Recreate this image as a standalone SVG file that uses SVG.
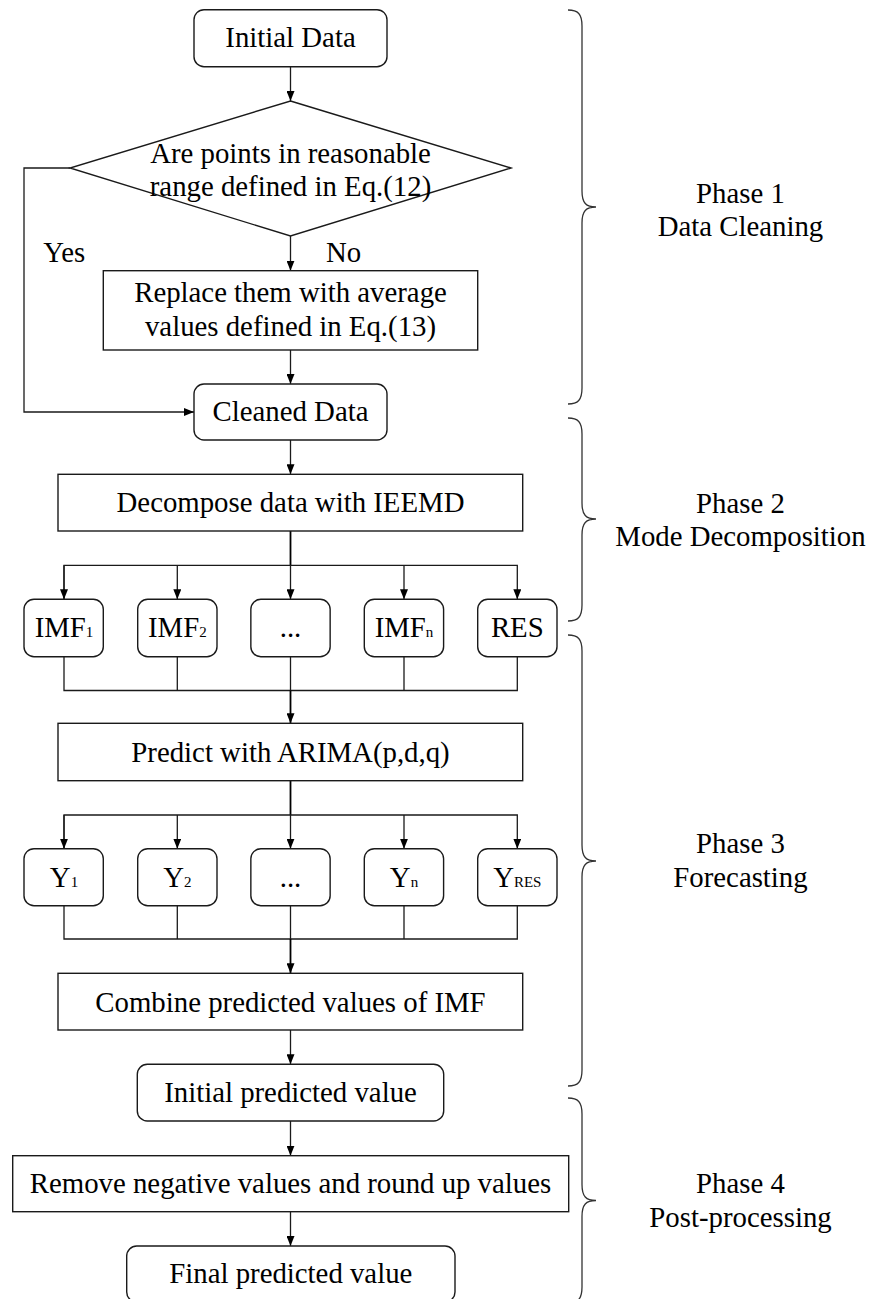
<svg xmlns="http://www.w3.org/2000/svg" width="870" height="1299" viewBox="0 0 870 1299">
<defs>
<marker id="arr" markerUnits="userSpaceOnUse" markerWidth="10" markerHeight="8" refX="10" refY="4" orient="auto">
<path d="M0,0 L10,4 L0,8 z" fill="#000"/>
</marker>
<style>
.box{fill:#fff;stroke:#1a1a1a;stroke-width:1.4}
.ln{fill:none;stroke:#1a1a1a;stroke-width:1.3}
.tr{fill:none;stroke:#000;stroke-width:1.8}
.br{fill:none;stroke:#333;stroke-width:1.3}
text{font-family:"Liberation Serif","Times New Roman",serif;font-size:28.8px;fill:#000}
.c{text-anchor:middle}
.sub{font-size:15px}
</style>
</defs>
<rect width="870" height="1299" fill="#fff"/>

<g id="connectors">
<line class="ln" x1="290.5" y1="66.7" x2="290.5" y2="101" marker-end="url(#arr)"/>
<line class="ln" x1="290.5" y1="236" x2="290.5" y2="270.7" marker-end="url(#arr)"/>
<line class="ln" x1="290.5" y1="350" x2="290.5" y2="384" marker-end="url(#arr)"/>
<polyline class="ln" points="70,168 24,168 24,412 194,412" marker-end="url(#arr)"/>
<line class="ln" x1="290.5" y1="440" x2="290.5" y2="474.3" marker-end="url(#arr)"/>
<line class="tr" x1="290.5" y1="531" x2="290.5" y2="565.3"/>
<polyline class="ln" points="64,599.3 64,565.3 517.3,565.3 517.3,599.3" marker-end="url(#arr)"/>
<line class="ln" x1="64" y1="565.3" x2="64" y2="599.3" marker-end="url(#arr)"/>
<line class="ln" x1="177.3" y1="565.3" x2="177.3" y2="599.3" marker-end="url(#arr)"/>
<line class="ln" x1="290.5" y1="565.3" x2="290.5" y2="599.3" marker-end="url(#arr)"/>
<line class="ln" x1="404" y1="565.3" x2="404" y2="599.3" marker-end="url(#arr)"/>
<polyline class="ln" points="64,656.7 64,690.5 517.3,690.5 517.3,656.7"/>
<line class="ln" x1="177.3" y1="656.7" x2="177.3" y2="690.5"/>
<line class="ln" x1="290.5" y1="656.7" x2="290.5" y2="690.5"/>
<line class="ln" x1="404" y1="656.7" x2="404" y2="690.5"/>
<line class="tr" x1="290.5" y1="690.5" x2="290.5" y2="723.3" marker-end="url(#arr)"/>
<line class="tr" x1="290.5" y1="780.7" x2="290.5" y2="815"/>
<polyline class="ln" points="64,848.7 64,815 517.3,815 517.3,848.7" marker-end="url(#arr)"/>
<line class="ln" x1="64" y1="815" x2="64" y2="848.7" marker-end="url(#arr)"/>
<line class="ln" x1="177.3" y1="815" x2="177.3" y2="848.7" marker-end="url(#arr)"/>
<line class="ln" x1="290.5" y1="815" x2="290.5" y2="848.7" marker-end="url(#arr)"/>
<line class="ln" x1="404" y1="815" x2="404" y2="848.7" marker-end="url(#arr)"/>
<polyline class="ln" points="64,905.7 64,939 517.3,939 517.3,905.7"/>
<line class="ln" x1="177.3" y1="905.7" x2="177.3" y2="939"/>
<line class="ln" x1="290.5" y1="905.7" x2="290.5" y2="939"/>
<line class="ln" x1="404" y1="905.7" x2="404" y2="939"/>
<line class="tr" x1="290.5" y1="939" x2="290.5" y2="973.3" marker-end="url(#arr)"/>
<line class="ln" x1="290.5" y1="1030" x2="290.5" y2="1064.3" marker-end="url(#arr)"/>
<line class="ln" x1="290.5" y1="1121" x2="290.5" y2="1155.7" marker-end="url(#arr)"/>
<line class="ln" x1="290.5" y1="1211.7" x2="290.5" y2="1246" marker-end="url(#arr)"/>
<text x="43.3" y="261.7">Yes</text>
<text x="326" y="261.7">No</text>
</g>

<g id="initial-data"><rect class="box" x="194" y="9.7" width="193" height="57" rx="10"/><text class="c" x="290.5" y="46.7">Initial Data</text></g>
<g id="decision"><polygon class="box" points="290.5,101 511,168 290.5,236 70,168"/><text class="c" x="290.5" y="162.7">Are points in reasonable</text><text class="c" x="290.5" y="196.3">range defined in Eq.(12)</text></g>
<g id="replace"><rect class="box" x="103.3" y="270.7" width="374.4" height="79.3"/><text class="c" x="290.5" y="301.7">Replace them with average</text><text class="c" x="290.5" y="335.5">values defined in Eq.(13)</text></g>
<g id="cleaned-data"><rect class="box" x="194" y="384" width="193" height="56" rx="10"/><text class="c" x="290.5" y="421">Cleaned Data</text></g>
<g id="decompose"><rect class="box" x="58" y="474.3" width="464.7" height="56.7"/><text class="c" x="290.5" y="511.7">Decompose data with IEEMD</text></g>

<g id="imf1"><rect class="box" x="24" y="599.3" width="79.3" height="57.4" rx="10"/><text class="c" x="64" y="637.3">IMF<tspan class="sub">1</tspan></text></g>
<g id="imf2"><rect class="box" x="137.7" y="599.3" width="79.3" height="57.4" rx="10"/><text class="c" x="177.3" y="637.3">IMF<tspan class="sub">2</tspan></text></g>
<g id="imf-dots"><rect class="box" x="250.85" y="599.3" width="79.3" height="57.4" rx="10"/><text class="c" x="290.5" y="637.3">...</text></g>
<g id="imfn"><rect class="box" x="364.3" y="599.3" width="79.3" height="57.4" rx="10"/><text class="c" x="404" y="637.3">IMF<tspan class="sub">n</tspan></text></g>
<g id="res"><rect class="box" x="477.7" y="599.3" width="79.3" height="57.4" rx="10"/><text class="c" x="517.3" y="637.3">RES</text></g>

<g id="predict"><rect class="box" x="58" y="723.3" width="464.7" height="57.4"/><text class="c" x="290.5" y="761.7">Predict with ARIMA(p,d,q)</text></g>

<g id="y1"><rect class="box" x="24" y="848.7" width="79.3" height="57" rx="10"/><text class="c" x="64" y="886.7">Y<tspan class="sub">1</tspan></text></g>
<g id="y2"><rect class="box" x="137.7" y="848.7" width="79.3" height="57" rx="10"/><text class="c" x="177.3" y="886.7">Y<tspan class="sub">2</tspan></text></g>
<g id="y-dots"><rect class="box" x="250.85" y="848.7" width="79.3" height="57" rx="10"/><text class="c" x="290.5" y="886.7">...</text></g>
<g id="yn"><rect class="box" x="364.3" y="848.7" width="79.3" height="57" rx="10"/><text class="c" x="404" y="886.7">Y<tspan class="sub">n</tspan></text></g>
<g id="yres"><rect class="box" x="477.7" y="848.7" width="79.3" height="57" rx="10"/><text class="c" x="517.3" y="886.7">Y<tspan class="sub">RES</tspan></text></g>

<g id="combine"><rect class="box" x="58" y="973.3" width="464.7" height="56.7"/><text class="c" x="290.5" y="1011.7">Combine predicted values of IMF</text></g>
<g id="initial-predicted"><rect class="box" x="137.3" y="1064.3" width="306.4" height="56.7" rx="10"/><text class="c" x="290.5" y="1101.7">Initial predicted value</text></g>
<g id="remove"><rect class="box" x="12.7" y="1155.7" width="556" height="56"/><text class="c" x="290.5" y="1192.7">Remove negative values and round up values</text></g>
<g id="final"><rect class="box" x="126.7" y="1246" width="328.3" height="56" rx="10"/><text class="c" x="290.8" y="1283.3">Final predicted value</text></g>

<g id="phase1"><path class="br" d="M568,10 C578,10 582,14 582,26 L582,191 C582,203 586,207 596,207 C586,207 582,211 582,223 L582,388 C582,400 578,404 568,404"/><text class="c" x="740.5" y="203">Phase 1</text><text class="c" x="740.5" y="236">Data Cleaning</text></g>
<g id="phase2"><path class="br" d="M568,418 C578,418 582,422 582,434 L582,503 C582,515 586,519 596,519 C586,519 582,523 582,535 L582,605 C582,617 578,621 568,621"/><text class="c" x="740.5" y="513">Phase 2</text><text class="c" x="740.5" y="546">Mode Decomposition</text></g>
<g id="phase3"><path class="br" d="M568,635 C578,635 582,639 582,651 L582,845 C582,857 586,861 596,861 C586,861 582,865 582,877 L582,1070 C582,1082 578,1086 568,1086"/><text class="c" x="740.5" y="853">Phase 3</text><text class="c" x="740.5" y="887">Forecasting</text></g>
<g id="phase4"><path class="br" d="M568,1098 C578,1098 582,1102 582,1114 L582,1184.5 C582,1196.5 586,1200.5 596,1200.5 C586,1200.5 582,1204.5 582,1216.5 L582,1287 C582,1299 578,1303 568,1303"/><text class="c" x="740.5" y="1193">Phase 4</text><text class="c" x="740.5" y="1227">Post-processing</text></g>
</svg>
